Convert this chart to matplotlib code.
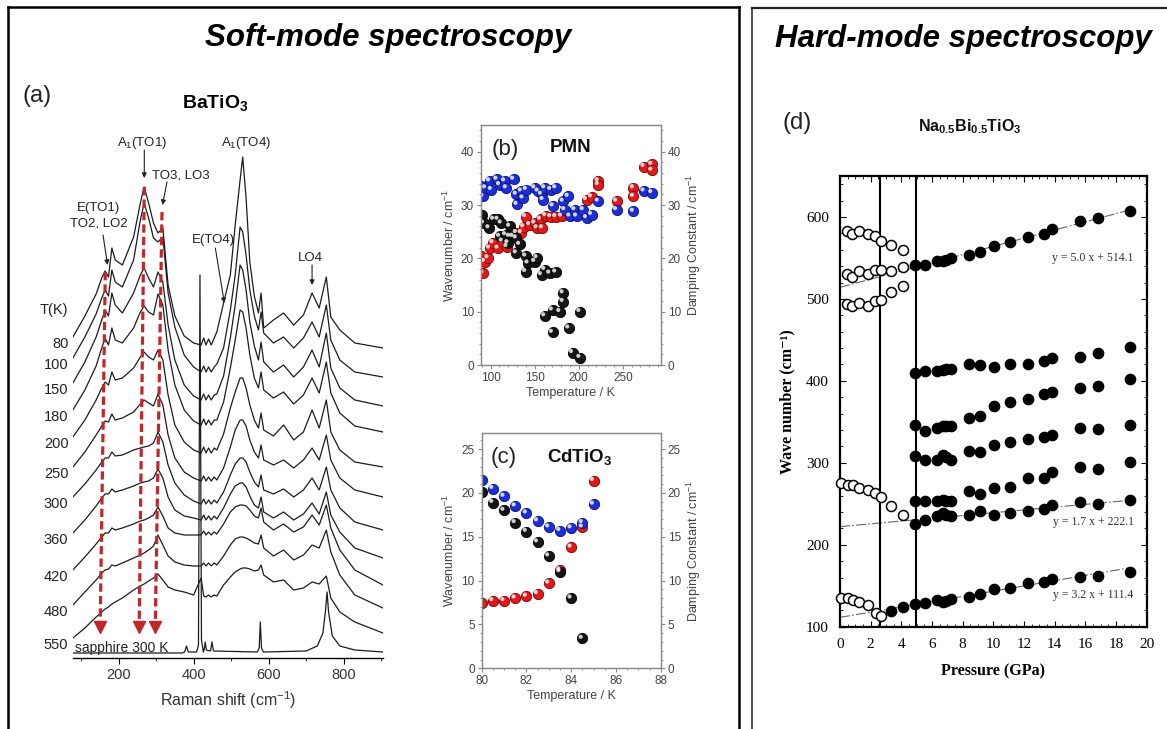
import matplotlib
matplotlib.use('Agg')
import matplotlib.pyplot as plt
from matplotlib.lines import Line2D
from matplotlib.transforms import offset_copy
from matplotlib.ticker import MultipleLocator

plt.rcParams['font.family'] = ['Liberation Sans', 'DejaVu Sans']
plt.rcParams['mathtext.fontset'] = 'custom'
plt.rcParams['mathtext.rm'] = 'Liberation Sans'
plt.rcParams['mathtext.it'] = 'Liberation Sans:italic'
plt.rcParams['mathtext.bf'] = 'Liberation Sans:bold'

# ---------------- data: (a) BaTiO3 Raman spectra (arbitrary units) ----------------
raman_shift = [78, 110, 140, 155, 164, 173, 182, 191, 210, 240, 258, 268, 280, 293, 305, 318, 332, 350,
               375, 400, 420, 427, 433, 440, 447, 455, 462, 480, 498, 511, 524, 531, 540, 550, 562, 573,
               580, 587, 613, 640, 667, 693, 716, 735, 754, 766, 790, 830, 905]
temps = [80, 100, 150, 180, 200, 250, 300, 360, 420, 480, 550]
spec_80 = [663, 684, 706, 722, 729, 723, 752, 740, 735, 763, 797, 813, 797, 777, 767, 772, 715, 684, 664, 657,
           655, 662, 655, 661, 655, 662, 668, 697, 725, 775, 820, 843, 802, 738, 704, 687, 707, 672, 680, 687,
           675, 685, 707, 692, 723, 683, 670, 657, 652]
spec_100 = [642, 663, 686, 702, 710, 704, 730, 718, 713, 740, 780, 797, 782, 762, 758, 763, 707, 673, 645, 633,
            628, 634, 628, 633, 628, 633, 636, 652, 690, 725, 773, 768, 745, 710, 684, 670, 688, 667, 657, 663,
            652, 662, 678, 663, 695, 660, 640, 628, 623]
spec_150 = [617, 638, 663, 680, 690, 684, 707, 695, 687, 707, 725, 732, 722, 713, 728, 718, 675, 640, 615, 604,
            600, 606, 600, 605, 600, 605, 606, 624, 662, 695, 735, 730, 710, 678, 654, 640, 658, 638, 628, 635,
            623, 633, 650, 633, 667, 632, 612, 600, 594]
spec_180 = [590, 610, 634, 652, 662, 655, 672, 660, 657, 672, 688, 694, 688, 685, 706, 695, 650, 615, 590, 579,
            575, 581, 575, 580, 575, 580, 580, 598, 632, 660, 690, 688, 672, 645, 622, 612, 628, 610, 602, 608,
            596, 605, 622, 607, 638, 607, 587, 574, 568]
spec_200 = [563, 580, 600, 612, 618, 615, 628, 620, 622, 632, 643, 648, 643, 640, 650, 640, 605, 575, 558, 550,
            547, 553, 547, 552, 547, 552, 550, 566, 592, 608, 622, 622, 612, 595, 580, 572, 587, 570, 564, 575,
            560, 568, 590, 572, 600, 568, 550, 538, 533]
spec_250 = [533, 548, 565, 574, 579, 578, 586, 580, 582, 588, 596, 600, 597, 594, 606, 595, 565, 542, 528, 522,
            519, 524, 519, 523, 519, 523, 520, 532, 553, 570, 580, 580, 574, 560, 548, 542, 555, 540, 535, 540,
            532, 540, 552, 540, 565, 540, 522, 510, 503]
spec_300 = [503, 516, 530, 538, 542, 542, 548, 544, 545, 550, 552, 553, 554, 557, 568, 558, 535, 517, 505, 499,
            496, 501, 496, 500, 496, 500, 497, 508, 525, 536, 542, 542, 538, 528, 518, 513, 525, 510, 506, 511,
            503, 510, 522, 510, 533, 510, 492, 478, 470]
spec_360 = [467, 480, 494, 502, 506, 506, 511, 508, 510, 514, 517, 518, 519, 522, 531, 522, 503, 490, 484, 482,
            480, 485, 480, 484, 480, 484, 481, 492, 506, 514, 517, 517, 513, 504, 495, 492, 503, 488, 482, 488,
            480, 486, 497, 486, 508, 485, 468, 452, 442]
spec_420 = [430, 443, 456, 463, 467, 467, 472, 470, 472, 476, 479, 480, 482, 485, 493, 484, 472, 467, 465, 465,
            465, 469, 465, 468, 465, 468, 466, 476, 488, 493, 495, 495, 494, 490, 484, 482, 492, 478, 470, 476,
            468, 473, 485, 475, 495, 472, 450, 430, 415]
spec_480 = [395, 408, 420, 427, 430, 431, 435, 434, 437, 442, 445, 447, 450, 454, 465, 455, 444, 438, 435, 434,
            434, 437, 434, 437, 434, 437, 435, 444, 455, 461, 463, 463, 462, 460, 457, 456, 465, 452, 444, 450,
            440, 445, 455, 452, 470, 448, 425, 405, 392]
spec_550 = [362, 372, 383, 388, 391, 393, 396, 398, 402, 410, 414, 416, 419, 422, 426, 420, 413, 410, 408, 405,
            422, 404, 403, 405, 403, 405, 404, 415, 423, 428, 431, 432, 432, 431, 429, 430, 435, 425, 418, 420,
            410, 412, 418, 416, 424, 402, 388, 378, 367]
spectra = [spec_80, spec_100, spec_150, spec_180, spec_200, spec_250, spec_300, spec_360, spec_420, spec_480,
           spec_550]
sapphire_shift = [78, 370, 376, 381, 386, 408, 413, 417, 421, 426, 428, 431, 434, 445, 449, 453, 570, 575, 578,
                  581, 586, 700, 730, 745, 752, 756, 760, 770, 790, 830, 905]
sapphire_int = [347, 347, 348, 354, 348, 348, 355, 725, 360, 348, 350, 358, 350, 349, 358, 349, 348, 352, 378,
                352, 348, 349, 354, 367, 390, 408, 388, 364, 354, 350, 348]
# soft-mode tracks (start at 80 K peak, end at 550 K)
soft_start_shift = [164.5, 268.5, 315.7]
soft_start_int = [728, 813, 788]
soft_end_shift = [151, 255, 298]

# ---------------- data: (b) PMN ----------------
pmn_T_black = [90.1, 92.0, 98.1, 103.4, 108.4, 112.1, 110.2, 117.1, 121.6, 119.7, 125.4, 129.2, 133.0, 129.2,
               139.9, 142.5, 150.1, 152.8, 139.9, 157.7, 161.5, 167.2, 174.0, 161.5, 170.2, 178.6, 182.4, 182.4,
               170.2, 188.8, 193.0, 201.4, 201.4]
pmn_w_black = [28.2, 26.6, 25.7, 27.3, 27.3, 26.6, 24.1, 24.4, 26.0, 22.9, 24.1, 23.8, 22.6, 21.0, 20.4, 19.1,
               19.4, 20.1, 17.5, 16.9, 17.9, 17.2, 17.4, 9.2, 10.3, 10.0, 13.5, 11.9, 6.1, 6.9, 2.3, 1.4, 10.0]
pmn_T_red = [89.4, 91.3, 93.2, 97.0, 98.9, 102.7, 108.4, 113.3, 118.6, 121.6, 129.2, 134.9, 137.6, 139.9, 144.4,
             150.1, 152.8, 156.6, 158.8, 162.6, 168.3, 174.0, 180.5, 208.9, 214.6, 222.2, 222.2, 243.1, 262.1,
             262.1, 274.2, 283.0, 283.0]
pmn_g_red = [20.4, 17.2, 19.4, 20.1, 21.9, 22.9, 21.9, 23.2, 22.2, 24.1, 24.8, 24.8, 25.9, 27.8, 26.3, 26.6,
             25.7, 27.3, 25.7, 28.0, 27.8, 27.8, 27.9, 31.0, 31.5, 34.5, 33.8, 30.7, 33.2, 31.6, 37.2, 37.6, 36.5]
pmn_T_blue = [89.4, 91.3, 94.3, 98.9, 100.8, 107.2, 110.2, 115.9, 117.8, 126.2, 129.2, 130.0, 134.9, 136.8,
              140.6, 150.1, 153.9, 157.7, 161.5, 168.3, 174.0, 159.6, 171.0, 182.4, 188.1, 184.2, 190.0, 195.7,
              197.6, 205.2, 208.9, 214.6, 222.2, 243.1, 262.1, 274.2, 283.0]
pmn_w_blue = [33.5, 31.6, 33.2, 34.5, 32.9, 34.8, 33.8, 34.5, 33.2, 34.8, 32.0, 30.1, 32.6, 31.3, 32.9, 33.2,
              32.6, 32.0, 33.2, 32.9, 33.2, 31.0, 29.8, 30.7, 31.6, 29.1, 27.9, 29.1, 27.9, 29.1, 27.6, 28.2,
              30.7, 29.1, 28.8, 32.6, 32.3]

# ---------------- data: (c) CdTiO3 ----------------
cd_T = [80.0, 80.5, 81.0, 81.5, 82.0, 82.5, 83.0, 83.5, 84.0, 84.5, 85.0]
cd_black = [20.1, 18.9, 18.0, 16.6, 15.6, 14.4, 12.8, 11.0, 8.0, 3.4]
cd_blue = [21.5, 20.5, 19.6, 18.5, 17.7, 16.8, 16.1, 15.7, 16.0, 16.6, 18.7]
cd_red = [7.4, 7.7, 7.7, 8.0, 8.2, 8.5, 9.7, 11.2, 13.8, 16.1, 21.4]

# ---------------- data: (d) Na0.5Bi0.5TiO3 under pressure ----------------
p_open_hi = [0.43, 0.80, 1.24, 1.82, 2.26, 2.69, 3.30, 4.12]
w_open_1 = [582.4, 579.6, 583.3, 579.6, 577.1, 571.0, 566.1, 560.0]
w_open_2 = [530.3, 526.6, 534.4, 530.3, 535.6, 535.6, 533.5, 538.8]
w_open_3 = [493.6, 491.6, 494.8, 491.6, 496.9, 498.1, 507.9, 516.0]
p_open_lo = [0.04, 0.52, 0.87, 1.24, 1.82, 2.26, 2.69, 3.30, 4.12]
w_open_4 = [275.3, 273.2, 272.4, 269.2, 266.3, 263.0, 258.2, 246.7, 236.6]
p_open_lo2 = [0.04, 0.52, 0.87, 1.24, 1.82, 2.32, 2.69]
w_open_5 = [134.7, 134.7, 132.6, 130.6, 126.5, 117.2, 113.5]
p_fill = [4.92, 5.57, 6.33, 6.72, 6.94, 7.25, 8.39, 9.15, 10.07, 11.06, 12.23, 13.32, 13.82, 15.62, 16.81, 18.92]
w_fill_1 = [541.7, 541.7, 546.6, 546.6, 547.8, 549.8, 553.9, 556.8, 564.1, 569.0, 575.5, 579.6, 585.3, 594.7,
            598.7, 606.9]
w_fill_2 = [410.1, 412.5, 412.5, 413.3, 414.1, 414.1, 420.7, 419.4, 417.4, 420.7, 420.7, 424.3, 427.6, 428.8,
            433.7, 441.8]
w_fill_3 = [346.6, 338.4, 342.5, 345.4, 344.9, 344.5, 354.2, 357.1, 369.3, 374.6, 377.5, 384.0, 386.8, 390.9,
            393.8, 401.9]
w_fill_4 = [307.9, 303.0, 303.0, 309.9, 307.0, 303.0, 314.0, 312.7, 322.1, 325.0, 329.5, 331.5, 334.3, 342.5,
            341.3, 346.6]
w_fill_5 = [252.9, 252.9, 252.9, 254.9, 252.9, 252.9, 265.1, 262.2, 269.2, 270.4, 281.4, 281.4, 288.3, 294.8,
            292.8, 300.5]
w_fill_6 = [225.6, 230.4, 234.5, 238.6, 236.6, 234.5, 236.6, 241.8, 236.6, 238.6, 241.8, 243.5, 248.8, 251.6,
            250.0, 254.1]
p_fill_7 = [3.30, 4.12] + p_fill
w_fill_7 = [119.6, 123.7, 127.8, 129.4, 132.6, 130.6, 131.5, 133.5, 136.7, 140.0, 145.7, 146.9, 153.0, 155.0,
            157.9, 161.2, 162.0, 167.3]
fit_slope = [5.0, 1.7, 3.2]
fit_icept = [514.1, 222.1, 111.4]
fit_prange = [0, 19]
phase_bounds = [2.6, 4.93]

# ---------------- figure ----------------
W, H = 1167, 729
fig = plt.figure(figsize=(W / 100, H / 100), dpi=100)


def fx(px):
    return px / W


def fy(py):
    return 1 - py / H


def box(l, t, r, b):
    return [fx(l), fy(b), fx(r) - fx(l), fy(t) - fy(b)]


# frames
fig.add_artist(Line2D([fx(8), fx(8)], [fy(7), 0], color='k', lw=1.8))
fig.add_artist(Line2D([fx(8), fx(739)], [fy(7), fy(7)], color='k', lw=1.8))
fig.add_artist(Line2D([fx(739), fx(739)], [fy(7), 0], color='k', lw=1.8))
fig.add_artist(Line2D([fx(752), fx(752)], [fy(8), 0], color='#222', lw=1.1))
fig.add_artist(Line2D([fx(752), 1.0], [fy(8), fy(8)], color='#222', lw=1.6))

fig.text(fx(388), fy(38), 'Soft-mode spectroscopy', fontsize=22.5, fontweight='bold', fontstyle='italic',
         ha='center', va='center')
fig.text(fx(963), fy(39), 'Hard-mode spectroscopy', fontsize=22.5, fontweight='bold', fontstyle='italic',
         ha='center', va='center')

# ---------------- (a) ----------------
axa = fig.add_axes(box(72.5, 100, 383.3, 658))
for T, I in zip(temps, spectra):
    axa.plot(raman_shift, I, color='#1c1c1c', lw=0.9)
    axa.text(66, I[0] - 7, str(T), ha='right', va='center', fontsize=10.5, color='#222')
axa.plot(sapphire_shift, sapphire_int, color='#1c1c1c', lw=0.9)
axa.set_xlim(77, 906)
axa.set_ylim(342, 900)
for s in ['left', 'right', 'top']:
    axa.spines[s].set_visible(False)
axa.spines['bottom'].set_linewidth(1.0)
axa.set_yticks([])
axa.set_xticks([200, 400, 600, 800])
axa.xaxis.set_minor_locator(MultipleLocator(100))
axa.tick_params(axis='x', which='major', direction='out', length=4, labelsize=10.5, labelcolor='#333')
axa.tick_params(axis='x', which='minor', direction='out', length=2.5)
axa.set_xlabel('Raman shift (cm$^{-1}$)', fontsize=11.5, color='#333', labelpad=5)

red = '#c0262b'
for x0, y0, x1 in zip(soft_start_shift, soft_start_int, soft_end_shift):
    axa.plot([x0, x1], [y0, 378], color=red, lw=2.3, dashes=(2.6, 1.3), solid_capstyle='butt')
    axa.plot([x1], [373], marker='v', ms=8.5, color=red, mec=red)

arrow_kw = dict(arrowstyle='-|>', color='#222', lw=0.8, mutation_scale=7, shrinkA=0, shrinkB=0)
axa.text(263, 857, 'A$_1$(TO1)', ha='center', va='center', fontsize=9.5, color='#222')
axa.annotate('', xy=(268.5, 822), xytext=(268.5, 850), arrowprops=arrow_kw, annotation_clip=False)
axa.text(541, 857, 'A$_1$(TO4)', ha='center', va='center', fontsize=9.5, color='#222')
axa.text(367, 825, 'TO3, LO3', ha='center', va='center', fontsize=9.5, color='#222')
axa.annotate('', xy=(317, 795), xytext=(329, 818), arrowprops=arrow_kw, annotation_clip=False)
axa.text(146, 784, 'E(TO1)\nTO2, LO2', ha='center', va='center', fontsize=9.5, color='#222',
         multialignment='center', linespacing=1.35)
axa.annotate('', xy=(170.6, 735), xytext=(158.4, 765), arrowprops=arrow_kw, annotation_clip=False)
axa.text(453, 760, 'E(TO4)', ha='center', va='center', fontsize=9.5, color='#222')
axa.annotate('', xy=(482, 697), xytext=(458, 752), arrowprops=arrow_kw, annotation_clip=False)
axa.text(711, 742, 'LO4', ha='center', va='center', fontsize=9.5, color='#222')
axa.annotate('', xy=(716, 715), xytext=(716, 735), arrowprops=arrow_kw, annotation_clip=False)
axa.text(26, 690, 'T(K)', ha='center', va='center', fontsize=10.5, color='#222')
axa.text(84, 352, 'sapphire 300 K', ha='left', va='center', fontsize=10, color='#222')

fig.text(fx(37), fy(96), '(a)', fontsize=17, ha='center', va='center', color='#222')
fig.text(fx(215), fy(103), r'BaTiO$_{\mathbf{3}}$', fontsize=14, fontweight='bold', ha='center', va='center')


# ---------------- sphere helper ----------------
def spheres(ax, x, y, color, edge):
    ax.scatter(x, y, s=55, c=color, edgecolors=edge, linewidths=0.6, zorder=3)
    hl = offset_copy(ax.transData, fig=fig, x=-1.7, y=1.7, units='dots')
    ax.scatter(x, y, s=9, c='white', alpha=0.8, edgecolors='none', transform=hl, zorder=4)


def style_small(ax, ax2, xmaj, xmin, ymaj, ymin):
    for a in (ax, ax2):
        for s in a.spines.values():
            s.set_color('#8a8a8a')
            s.set_linewidth(0.9)
    ax.xaxis.set_major_locator(MultipleLocator(xmaj))
    ax.xaxis.set_minor_locator(MultipleLocator(xmin))
    for a in (ax, ax2):
        a.yaxis.set_major_locator(MultipleLocator(ymaj))
        a.yaxis.set_minor_locator(MultipleLocator(ymin))
        a.tick_params(which='major', direction='out', length=3, color='#8a8a8a', labelsize=8.5,
                      labelcolor='#444', pad=2)
        a.tick_params(which='minor', direction='out', length=1.6, color='#8a8a8a')


# ---------------- (b) ----------------
axb = fig.add_axes(box(481, 125, 660.7, 365))
axb.set_xlim(89, 293)
axb.set_ylim(0, 45)
spheres(axb, pmn_T_red, pmn_g_red, '#e01a1a', '#7a0000')
spheres(axb, pmn_T_black, pmn_w_black, '#151515', '#000000')
spheres(axb, pmn_T_blue, pmn_w_blue, '#1c2fd6', '#0a1170')
axb2 = axb.twinx()
axb2.set_ylim(0, 45)
style_small(axb, axb2, 50, 10, 10, 2)
axb.set_ylabel('Wavenumber / cm$^{-1}$', fontsize=9, color='#444', labelpad=3)
axb2.set_ylabel('Damping Constant / cm$^{-1}$', fontsize=9, color='#444', labelpad=3)
axb.set_xlabel('Temperature / K', fontsize=9, color='#444', labelpad=2)
fig.text(fx(505), fy(150), '(b)', fontsize=16, ha='center', va='center', color='#222')
fig.text(fx(571), fy(148), 'PMN', fontsize=13.5, fontweight='bold', ha='center', va='center', color='#111')

# ---------------- (c) ----------------
axc = fig.add_axes(box(481.7, 433.3, 660.7, 668.3))
axc.set_xlim(80, 88)
axc.set_ylim(0, 26.8)
spheres(axc, cd_T, cd_red, '#e01a1a', '#7a0000')
spheres(axc, cd_T[:len(cd_black)], cd_black, '#151515', '#000000')
spheres(axc, cd_T, cd_blue, '#1c2fd6', '#0a1170')
axc2 = axc.twinx()
axc2.set_ylim(0, 26.8)
style_small(axc, axc2, 2, 0.5, 5, 1)
axc.set_ylabel('Wavenumber / cm$^{-1}$', fontsize=9, color='#444', labelpad=3)
axc2.set_ylabel('Damping Constant / cm$^{-1}$', fontsize=9, color='#444', labelpad=3)
axc.set_xlabel('Temperature / K', fontsize=9, color='#444', labelpad=2)
fig.text(fx(504), fy(457), '(c)', fontsize=16, ha='center', va='center', color='#222')
fig.text(fx(580), fy(457), r'CdTiO$_{\mathbf{3}}$', fontsize=13.5, fontweight='bold', ha='center',
         va='center', color='#111')

# ---------------- (d) ----------------
serif = ['Liberation Serif', 'DejaVu Serif']
axd = fig.add_axes(box(840, 176, 1146.7, 626.7))
axd.set_xlim(0, 20)
axd.set_ylim(100, 650)
for xb in phase_bounds:
    axd.axvline(xb, color='k', lw=1.5, zorder=2)
for a, b in zip(fit_slope, fit_icept):
    axd.plot(fit_prange, [a * fit_prange[0] + b, a * fit_prange[1] + b], color='#666', lw=0.8,
             ls=(0, (9, 2, 1.5, 2)), zorder=1)
open_kw = dict(ls='none', marker='o', ms=7.2, mfc='white', mec='k', mew=1.1, zorder=3, clip_on=False)
fill_kw = dict(ls='none', marker='o', ms=7.4, mfc='k', mec='k', zorder=3, clip_on=False)
for w in (w_open_1, w_open_2, w_open_3):
    axd.plot(p_open_hi, w, **open_kw)
axd.plot(p_open_lo, w_open_4, **open_kw)
axd.plot(p_open_lo2, w_open_5, **open_kw)
for w in (w_fill_1, w_fill_2, w_fill_3, w_fill_4, w_fill_5, w_fill_6):
    axd.plot(p_fill, w, **fill_kw)
axd.plot(p_fill_7, w_fill_7, **fill_kw)
for a, b, ty in zip(fit_slope, fit_icept, [550, 228, 139]):
    axd.text(16.5, ty, f'y = {a:.1f} x + {b:.1f}', fontsize=8.5, family=serif, color='#333',
             ha='center', va='center')
for s in axd.spines.values():
    s.set_linewidth(1.6)
axd.xaxis.set_major_locator(MultipleLocator(2))
axd.xaxis.set_minor_locator(MultipleLocator(0.5))
axd.yaxis.set_major_locator(MultipleLocator(100))
axd.yaxis.set_minor_locator(MultipleLocator(20))
axd.tick_params(which='major', direction='in', length=4, top=True, right=True, labelsize=11, pad=8)
axd.tick_params(which='minor', direction='in', length=2, top=True, right=True)
for lbl in axd.get_xticklabels() + axd.get_yticklabels():
    lbl.set_family(serif)
axd.set_xlabel('Pressure (GPa)', fontsize=11.5, fontweight='bold', family=serif, labelpad=9)
axd.set_ylabel('Wave number (cm⁻¹)', fontsize=11.5, fontweight='bold', family=serif, labelpad=8)
fig.text(fx(797), fy(123), '(d)', fontsize=17, ha='center', va='center', color='#222')
fig.text(fx(970), fy(127), r'Na$_{\mathbf{0.5}}$Bi$_{\mathbf{0.5}}$TiO$_{\mathbf{3}}$', fontsize=11.5,
         fontweight='bold', ha='center', va='center', color='#111')

fig.savefig('out.png', dpi=100)
